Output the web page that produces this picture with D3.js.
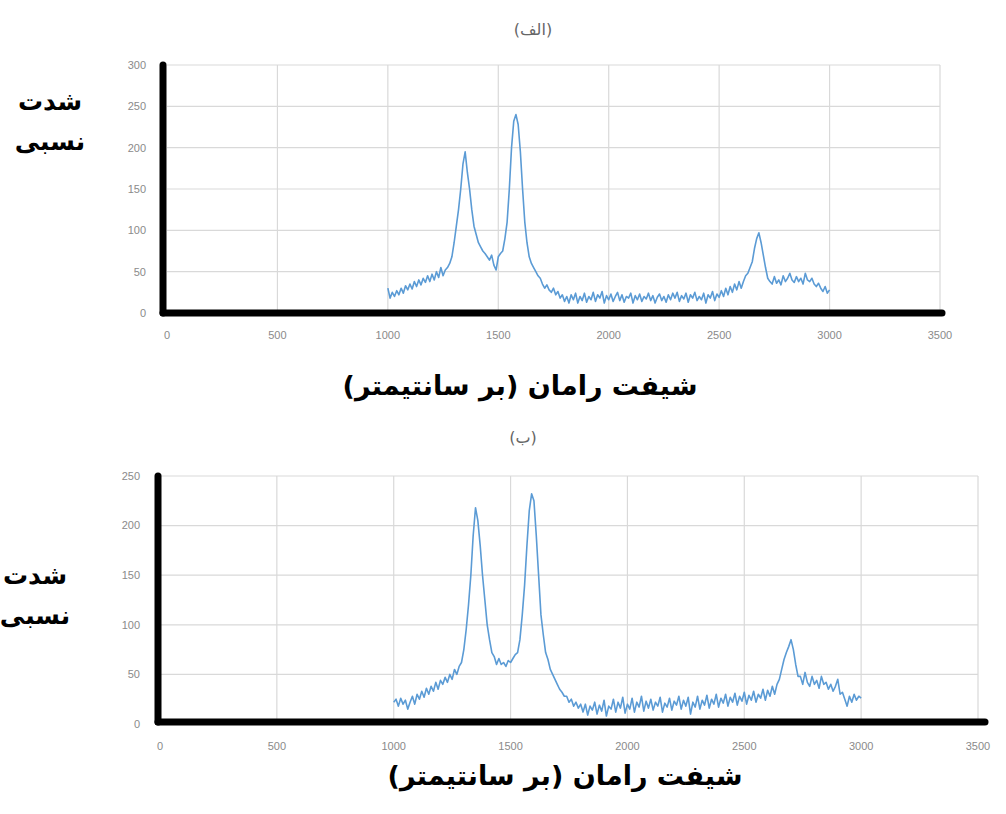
<!DOCTYPE html>
<html><head><meta charset="utf-8">
<script src="https://cdn.jsdelivr.net/npm/d3@7"></script>
<style>body{margin:0;background:#fff}svg{display:block}</style>
</head><body>
<svg id="c" width="1006" height="814"></svg>
<script>
// Wavenumber grid (cm^-1), sampled every 10 from 1000 to 3000
const shiftStart = 1000, shiftStep = 10;
const xTicks = [0, 500, 1000, 1500, 2000, 2500, 3000, 3500];
const yTicksA = [0, 50, 100, 150, 200, 250, 300];
const yTicksB = [0, 50, 100, 150, 200, 250];
const titleA = "(الف)";
const titleB = "(ب)";
const yLabel1 = "شدت";
const yLabel2 = "نسبی";
const xLabel = "شیفت رامان (بر سانتیمتر)";

const intensityA = [
30,18,25,20,27,22,30,24,33,28,
35,29,38,32,40,34,42,37,45,38,
47,40,50,43,55,45,52,55,60,68,
85,105,125,150,180,195,170,150,125,105,
95,85,80,75,72,68,64,70,58,52,
68,72,75,90,110,150,200,232,240,228,
195,150,110,85,68,60,55,50,45,42,
35,30,34,28,25,30,22,26,18,22,
14,20,12,22,16,24,12,20,15,24,
13,20,16,25,14,22,18,26,12,21,
16,23,14,20,25,15,22,13,20,18,
24,12,21,16,23,14,20,17,24,15,
21,12,19,23,15,20,13,22,16,24,
18,25,14,21,17,24,13,22,18,25,
15,20,16,24,12,22,18,26,15,23,
19,27,20,30,22,32,25,35,28,38,
30,38,45,48,55,62,78,90,97,85,
70,55,42,38,35,44,36,40,34,45,
38,42,48,40,37,44,38,42,35,48,
40,38,42,35,32,36,30,26,32,24,
28];

const intensityB = [
22,25,18,26,20,24,15,22,28,20,
30,25,33,27,36,30,38,33,42,35,
44,40,47,42,50,45,55,50,58,62,
75,95,120,150,190,218,205,180,150,125,
100,85,72,68,60,66,60,62,58,64,
62,66,70,72,85,110,140,180,215,232,
225,190,150,110,90,72,65,55,50,45,
40,35,32,28,28,22,25,18,22,16,
20,12,20,9,18,14,22,10,19,13,
24,8,18,15,25,12,22,16,27,11,
20,15,26,12,22,17,28,13,23,16,
25,14,22,18,27,12,21,17,26,14,
23,19,28,15,24,18,27,10,22,17,
28,15,24,19,29,16,25,20,30,17,
26,21,30,18,27,22,31,19,28,23,
32,20,29,24,33,22,30,26,35,24,
34,28,38,30,40,45,55,65,72,78,
85,75,60,48,48,40,52,42,38,48,
40,44,36,48,40,42,35,40,33,38,
45,30,32,25,18,28,22,30,24,28,
26];

const svg = d3.select("#c");
const blue = "#5B9BD5";
const tickFont = "'Liberation Sans', Arial, sans-serif";
const faFont = "'DejaVu Sans', 'Noto Sans', sans-serif";

function drawChart(cfg) {
  const {data, yTicks, yMax, x0, x1, yTop, yBot, axisX, axisY, axisRight,
         title, titleY, titleX, labX, labY1, labY2, xLabY, xLabX, tickLabRight, xTickY} = cfg;
  const x = d3.scaleLinear().domain([0, 3500]).range([x0, x1]);
  const y = d3.scaleLinear().domain([0, yMax]).range([yBot, yTop]);
  const g = svg.append("g");

  // grid
  g.selectAll(".hg").data(yTicks).join("line")
    .attr("x1", x0).attr("x2", x1)
    .attr("y1", d => y(d)).attr("y2", d => y(d))
    .attr("stroke", "#d9d9d9").attr("stroke-width", 1.2);
  g.selectAll(".vg").data(xTicks.slice(1)).join("line")
    .attr("x1", d => x(d)).attr("x2", d => x(d))
    .attr("y1", yTop).attr("y2", yBot)
    .attr("stroke", "#d9d9d9").attr("stroke-width", 1.2);

  // tick labels
  g.selectAll(".yl").data(yTicks).join("text")
    .attr("x", tickLabRight).attr("y", d => y(d)).attr("dy", "0.35em")
    .attr("text-anchor", "end").attr("font-family", tickFont)
    .attr("font-size", 11).attr("fill", "#8a8a8a").text(d => d);
  g.selectAll(".xl").data(xTicks).join("text")
    .attr("x", d => x(d)).attr("y", xTickY)
    .attr("text-anchor", "middle").attr("font-family", tickFont)
    .attr("font-size", 11).attr("fill", "#8a8a8a").text(d => d);

  // line
  const line = d3.line()
    .x((d, i) => x(shiftStart + i * shiftStep))
    .y(d => y(d));
  g.append("path").datum(data).attr("d", line)
    .attr("fill", "none").attr("stroke", blue).attr("stroke-width", 1.6)
    .attr("stroke-linejoin", "round");

  // heavy axes
  g.append("line").attr("x1", axisX).attr("x2", axisX)
    .attr("y1", yTop).attr("y2", axisY)
    .attr("stroke", "#000").attr("stroke-width", 7).attr("stroke-linecap", "round");
  g.append("line").attr("x1", axisX).attr("x2", axisRight)
    .attr("y1", axisY).attr("y2", axisY)
    .attr("stroke", "#000").attr("stroke-width", 7).attr("stroke-linecap", "round");

  // titles
  g.append("text").attr("x", titleX).attr("y", titleY)
    .attr("text-anchor", "middle").attr("font-family", faFont)
    .attr("font-size", 16).attr("fill", "#666").attr("direction", "rtl").text(title);
  g.append("text").attr("x", labX).attr("y", labY1)
    .attr("text-anchor", "middle").attr("font-family", faFont).attr("font-weight", "bold")
    .attr("font-size", 25).attr("fill", "#000").attr("direction", "rtl").text(yLabel1);
  g.append("text").attr("x", labX).attr("y", labY2)
    .attr("text-anchor", "middle").attr("font-family", faFont).attr("font-weight", "bold")
    .attr("font-size", 25).attr("fill", "#000").attr("direction", "rtl").text(yLabel2);
  g.append("text").attr("x", xLabX).attr("y", xLabY)
    .attr("text-anchor", "middle").attr("font-family", faFont).attr("font-weight", "bold")
    .attr("font-size", 27).attr("fill", "#000").attr("direction", "rtl").text(xLabel);
}

drawChart({data: intensityA, yTicks: yTicksA, yMax: 300,
  x0: 167, x1: 940, yTop: 65, yBot: 313, axisX: 163, axisY: 313, axisRight: 942,
  title: titleA, titleX: 533, titleY: 35, labX: 50, labY1: 110, labY2: 150,
  xLabX: 520, xLabY: 395, tickLabRight: 146, xTickY: 339});

drawChart({data: intensityB, yTicks: yTicksB, yMax: 250,
  x0: 160, x1: 978, yTop: 476, yBot: 724, axisX: 158, axisY: 722, axisRight: 985,
  title: titleB, titleX: 523, titleY: 443, labX: 35, labY1: 584, labY2: 624,
  xLabX: 565, xLabY: 785, tickLabRight: 140, xTickY: 750});
</script>
</body></html>
